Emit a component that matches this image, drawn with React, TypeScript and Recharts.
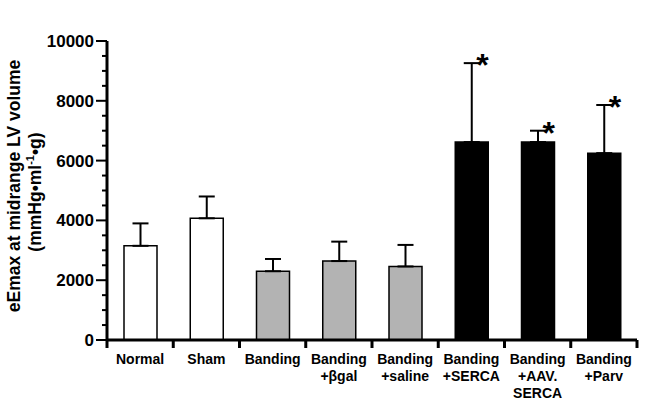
import { ComposedChart, Bar, Cell, ErrorBar, Scatter, XAxis, YAxis, Label } from 'recharts'

const categories = [
  'Normal',
  'Sham',
  'Banding',
  'Banding\n+βgal',
  'Banding\n+saline',
  'Banding\n+SERCA',
  'Banding\n+AAV.\nSERCA',
  'Banding\n+Parv',
]
const groups = ['control', 'control', 'banding', 'banding', 'banding', 'treated', 'treated', 'treated']
const means = [3150, 4070, 2300, 2640, 2460, 6620, 6620, 6250]
const sems = [750, 730, 410, 650, 720, 2640, 380, 1610]
const significant = [false, false, false, false, false, true, true, true]
const yTicks = Array.from({ length: 21 }, (_, i) => i * 500)
const yLabelTicks = [0, 2000, 4000, 6000, 8000, 10000]

const GROUP_FILL: Record<string, string> = {
  control: '#ffffff',
  banding: '#b3b3b3',
  treated: '#000000',
}

const FONT = '"Liberation Sans", Arial, Helvetica, sans-serif'

const data = categories.map((name, i) => ({
  name,
  group: groups[i],
  mean: means[i],
  err: [0, sems[i]],
  star: significant[i] ? means[i] + sems[i] : null,
}))

function YTick({ x, y, payload }: any) {
  const major = yLabelTicks.includes(payload.value)
  return (
    <g>
      <line x1={x - (major ? 11 : 5)} x2={x} y1={y} y2={y} stroke="#000" strokeWidth={2} />
      {major && (
        <text x={x - 13} y={y} dy={6} textAnchor="end" fontFamily={FONT} fontWeight="bold" fontSize={17} fill="#000">
          {payload.value}
        </text>
      )}
    </g>
  )
}

function XTick({ x, y, payload, index }: any) {
  const half = payload.offset ?? 33
  const lines = String(payload.value).split('\n')
  return (
    <g>
      <line x1={x - half} x2={x - half} y1={y} y2={y + 8} stroke="#000" strokeWidth={3} />
      {index === categories.length - 1 && (
        <line x1={x + half} x2={x + half} y1={y} y2={y + 8} stroke="#000" strokeWidth={3} />
      )}
      <text textAnchor="middle" fontFamily={FONT} fontWeight="bold" fontSize={14} fill="#000">
        {lines.map((l, i) => (
          <tspan key={i} x={x} y={y + 24 + i * 17}>
            {l}
          </tspan>
        ))}
      </text>
    </g>
  )
}

function YTitle() {
  return (
    <g fontFamily={FONT} fontWeight="bold" fontSize={17.5} fill="#000">
      <text transform="rotate(-90)" x={-186} y={20} textAnchor="middle">
        eEmax at midrange LV volume
      </text>
      <text transform="rotate(-90)" x={-192} y={41} textAnchor="middle">
        (mmHg•ml
        <tspan dy={-7} fontSize={11}>-1</tspan>
        <tspan dy={7}>•g)</tspan>
      </text>
    </g>
  )
}

function Star({ cx, cy, payload }: any) {
  if (payload?.star == null || cx == null || cy == null) return <g />
  return (
    <text x={cx + 11} y={cy + 13} textAnchor="middle" fontFamily={FONT} fontWeight="bold" fontSize={32} fill="#000">
      *
    </text>
  )
}

export default function App() {
  return (
    <div style={{ position: 'absolute', left: 0, top: 0, width: 645, height: 400, background: '#fff' }}>
      <ComposedChart width={645} height={400} data={data} margin={{ top: 41, right: 8, bottom: 0, left: 0 }}>
        <XAxis
          dataKey="name"
          height={60}
          interval={0}
          tickLine={false}
          tickSize={0}
          tickMargin={0}
          axisLine={{ stroke: '#000', strokeWidth: 3 }}
          tick={<XTick />}
        />
        <YAxis
          type="number"
          domain={[0, 10000]}
          ticks={yTicks}
          interval={0}
          width={107}
          tickLine={false}
          tickSize={0}
          tickMargin={0}
          axisLine={{ stroke: '#000', strokeWidth: 3 }}
          tick={<YTick />}
          allowDataOverflow
        >
          <Label content={<YTitle />} />
        </YAxis>
        <Bar dataKey="mean" barSize={33} stroke="#000" strokeWidth={1.5} isAnimationActive={false}>
          {data.map((d) => (
            <Cell key={d.name} fill={GROUP_FILL[d.group]} />
          ))}
          <ErrorBar dataKey="err" width={8} stroke="#000" strokeWidth={2} direction="y" />
        </Bar>
        <Scatter dataKey="star" shape={<Star />} isAnimationActive={false} />
      </ComposedChart>
    </div>
  )
}
